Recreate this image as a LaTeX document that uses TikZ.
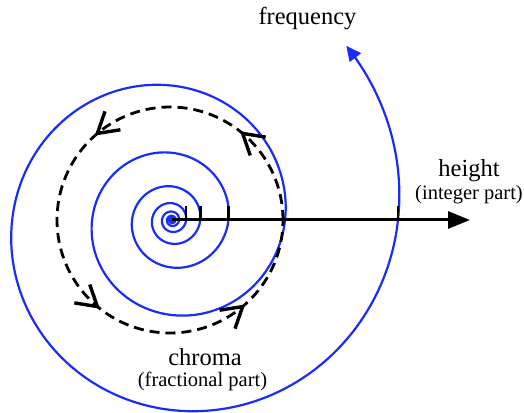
\documentclass[tikz,border=0pt]{standalone}
\usepackage{fontspec}
\setmainfont{Liberation Serif}
\usetikzlibrary{arrows.meta,calc}
\definecolor{spiralblue}{RGB}{25,45,250}
\tikzset{
  spiralline/.style={draw=spiralblue, line width=2.2pt, -{Triangle[length=15pt,width=14pt]}},
  axisline/.style={draw=black, line width=3pt, -{Triangle[length=22pt,width=17pt]}},
  tickline/.style={draw=black, line width=2.6pt},
  barbline/.style={draw=black, solid, line width=3.4pt, line cap=butt, line join=miter},
  chromacircle/.style={draw=black, line width=2.8pt, dash pattern=on 10pt off 6pt},
  bigtext/.style={font=\fontsize{24.5}{28}\selectfont, inner sep=0pt, anchor=base},
  smalltext/.style={font=\fontsize{20.5}{24}\selectfont, inner sep=0pt, anchor=base}
}
\begin{document}
\begin{tikzpicture}[x=1pt,y=1pt]
\useasboundingbox (0,0) rectangle (524,412);
\coordinate (C) at (172,192);
\coordinate (H) at (470,192);
\coordinate (O) at (170,192);
% spiral
\begin{scope}[shift={(C)}]
\draw[spiralline] plot[domain=-3600:45, samples=900, smooth] (\x:{226*2^(\x/360)});
\end{scope}
% chroma circle
\draw[chromacircle] (O) circle[radius=113];
\foreach \a in {50,130,230,310}{
  \begin{scope}[shift={($(O)+(\a:113)$)}, rotate=\a+90]
    \draw[barbline] (-20,12) -- (0,0) -- (-20,-12);
  \end{scope}
}
% axis
\draw[axisline] (C) -- (H);
\foreach \r in {14.1,28.25,56.5,226}{
  \draw[tickline] ($(C)+(\r,0)$) -- ++(0,14);
}
% labels
\node[bigtext] (freq) at (307.5,387) {frequency};
\node[bigtext] (height) at (469,235) {height};
\node[smalltext] (intpart) at (469,212) {(integer part)};
\node[bigtext] (chroma) at (205,47) {chroma};
\node[smalltext] (fracpart) at (202.5,26) {(fractional part)};
\end{tikzpicture}
\end{document}
